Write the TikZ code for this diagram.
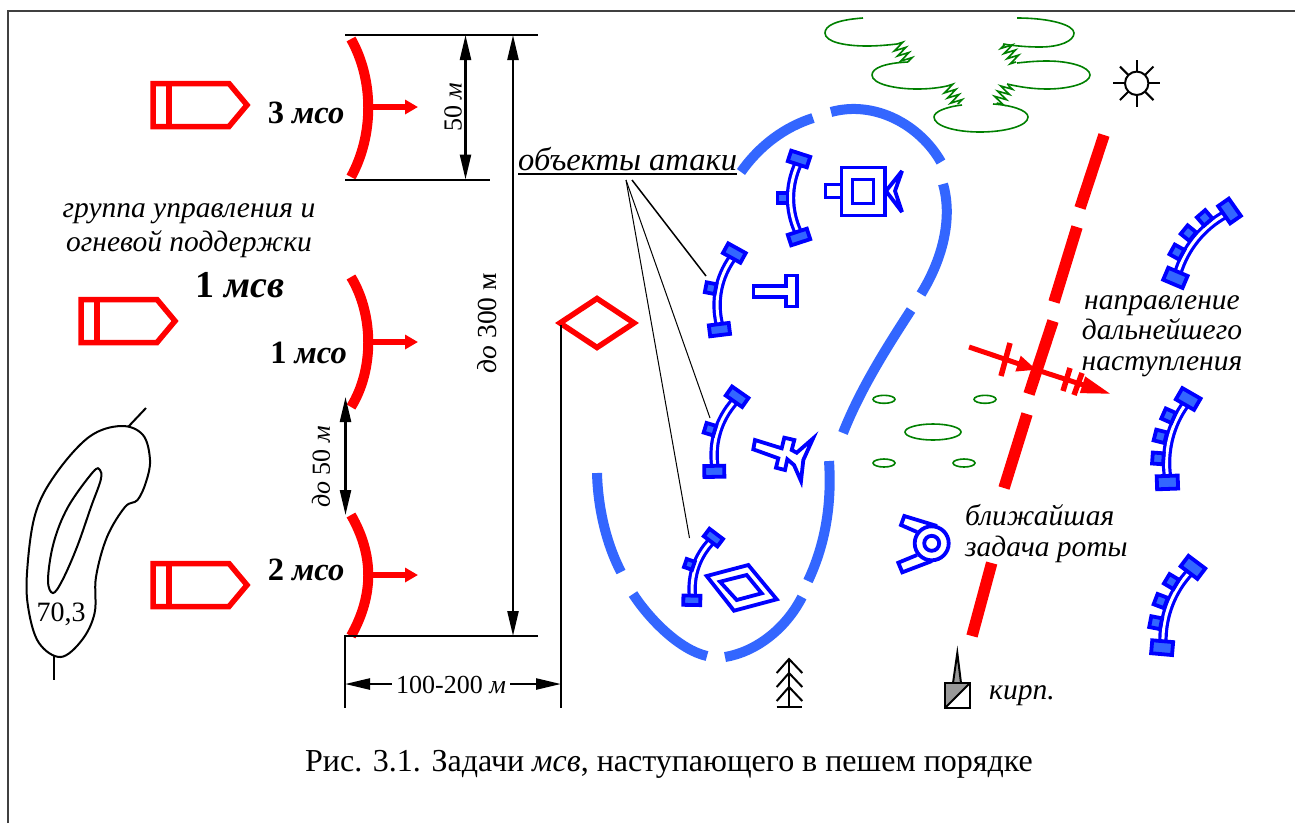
\documentclass[tikz,border=0pt]{standalone}
\usepackage{fontspec}
\setmainfont{Liberation Serif}
\usetikzlibrary{arrows.meta,decorations.pathmorphing}

\begin{document}
\begin{tikzpicture}[x=1pt, y=-1pt,
		lbl/.style={inner sep=0pt, anchor=base, font=\fontsize{29.5}{31}\selectfont},
		biglbl/.style={inner sep=0pt, anchor=base, font=\fontsize{32.5}{33}\selectfont},
		sublbl/.style={inner sep=0pt, anchor=base, font=\fontsize{26}{31}\selectfont},
		dim/.style={line width=2.4pt, {Triangle[length=25pt,width=11pt]}-{Triangle[length=25pt,width=11pt]}},
		rule/.style={line width=2pt},
		redbox/.style={draw=red, line width=5.5pt, miter limit=10},
		redarc/.style={draw=red, line width=10pt},
		redarrow/.style={draw=red, line width=6pt, -{Triangle[length=13pt,width=14pt]}},
		road/.style={draw=red, line width=11.5pt},
		front/.style={draw=frontblue, line width=10pt},
		target/.style={draw=blue, line width=3.8pt, miter limit=5},
		bluebox/.style={draw=blue, fill=frontblue, line width=3.8pt},
		trenchline/.style={blue, line width=3.2pt, double=white, double distance=3pt},
		pond/.style={draw=pondgreen, line width=1.6pt},
		zig/.style={draw=pondgreen, line width=1.6pt, decorate, decoration={zigzag, segment length=6pt, amplitude=6pt}},
		pics/trench/.style={code={
			\draw[trenchline] (6,-34) .. controls (-4,-12) and (-4,12) .. (6,34);
			\draw[bluebox, shift={(-9.5,0)}] (-5,-5) rectangle (5,5);
			\draw[bluebox, shift={(7,-39)}, rotate=-18] (-10,-5.5) rectangle (10,5.5);
			\draw[bluebox, shift={(7,39)}, rotate=18] (-10,-5.5) rectangle (10,5.5);
		}},
		pics/longtrench/.style={code={
			\draw[trenchline] (6,-38) .. controls (-4,-14) and (-4,14) .. (6,38);
			\draw[bluebox, shift={(-8,-22)}, rotate=-10] (-5.5,-5.5) rectangle (5.5,5.5);
			\draw[bluebox, shift={(-11,0)}] (-5.5,-5.5) rectangle (5.5,5.5);
			\draw[bluebox, shift={(-8,22)}, rotate=10] (-5.5,-5.5) rectangle (5.5,5.5);
			\draw[bluebox, shift={(7,-43)}, rotate=-16] (-10.5,-6.5) rectangle (10.5,6.5);
			\draw[bluebox, shift={(7,43)}, rotate=16] (-10.5,-6.5) rectangle (10.5,6.5);
		}},
		pics/company/.style={code={
			\draw[redbox] (0,0) -- (76,0) -- (94,21.5) -- (76,43) -- (0,43) -- cycle;
			\draw[redbox] (16,0) -- (16,43);
		}}]
		\definecolor{frontblue}{RGB}{51,102,255}
		\definecolor{pondgreen}{RGB}{0,128,0}
		\useasboundingbox (0,0) rectangle (1295,823);
		\fill[white] (0,0) rectangle (1295,823);
		\draw[black!75, line width=2pt] (8,823) -- (8,10.5) -- (1295,10.5);

		\pic at (153,83.5) {company};
		\pic at (81,299.5) {company};
		\pic at (153,563.5) {company};

		\draw[redarc] (351,39) .. controls (374,80) and (374,135) .. (351,177);
		\draw[redarc] (351,277) .. controls (374,315) and (374,370) .. (351,407);
		\draw[redarc] (351,515) .. controls (374,555) and (374,595) .. (351,636);
		\draw[redarrow] (371,107) -- (418,107);
		\draw[redarrow] (371,342) -- (418,342);
		\draw[redarrow] (371,575) -- (418,575);

		\node[biglbl] (n3) at (306,123) {\textbf{3 \textit{мсо}}};
		\node[biglbl] (n1) at (308.5,363) {\textbf{1 \textit{мсо}}};
		\node[biglbl] (n2) at (306,580) {\textbf{2 \textit{мсо}}};
		\node[lbl, font=\fontsize{38}{38}\selectfont] (batt) at (240,297) {\textbf{1 \textit{мсв}}};
		\node[lbl] (group1) at (189,217) {\textit{группа управления и}};
		\node[lbl] (group2) at (189,251) {\textit{огневой поддержки}};

		\coordinate (top1) at (345,35);
		\coordinate (top2) at (538,35);
		\coordinate (mid1) at (345,179.5);
		\coordinate (mid2) at (490,179.5);
		\coordinate (low1) at (345,636);
		\coordinate (low2) at (538,636);
		\coordinate (low3) at (345,708);
		\draw[rule] (top1) -- (top2);
		\draw[rule] (mid1) -- (mid2);
		\draw[rule] (low2) -- (low1) -- (low3);

		\coordinate (a1) at (465.5,35);
		\coordinate (a2) at (465.5,179.5);
		\coordinate (b1) at (513,35);
		\coordinate (b2) at (513,636);
		\coordinate (c1) at (345.5,397);
		\coordinate (c2) at (345.5,515);
		\coordinate (d1) at (345,684);
		\coordinate (d2) at (561,684);
		\draw[dim] (a1) -- (a2);
		\draw[dim] (b1) -- (b2);
		\draw[dim] (c1) -- (c2);
		\draw[dim] (d1) -- (d2);
		\node[sublbl, rotate=90, anchor=center] (w50) at (453,107) {50 \textit{м}};
		\node[sublbl, rotate=90, anchor=center, font=\fontsize{27.5}{31}\selectfont] (w300) at (487,323) {\textit{до} 300 м};
		\node[sublbl, rotate=90, anchor=center] (w503) at (321,467) {\textit{до} 50 \textit{м}};
		\node[sublbl, fill=white, inner xsep=4pt, inner ysep=3pt] (w100) at (451,693) {100-200 \textit{м}};

		\draw[rule] plot[smooth cycle, tension=.6] coordinates {(121,426) (143,435) (150,460) (146,482) (137.5,500) (125,507) (107,537) (96,577) (94.6,613) (82,640) (60.7,657) (39,643) (28.6,610) (27,573) (35,515) (55,475) (89,437)};
		\draw[rule] plot[smooth cycle, tension=.6] coordinates {(100,470) (93,472) (68,507) (53.6,543) (48,580) (53,593) (62.5,580) (77,547) (91,507) (100.7,480)};
		\draw[rule] (128.5,426.5) -- (146,408);
		\draw[rule] (53.5,656) -- (53.5,680);
		\node[sublbl, font=\fontsize{28}{31}\selectfont] (hill) at (61,621) {70,3};

		\draw[redbox] (560,323) -- (597,298.5) -- (634,323) -- (597,347.5) -- cycle;
		\draw[rule] (561,325) -- (561,708);

		\node[biglbl, anchor=base west, font=\fontsize{32.5}{33}\selectfont] (objects) at (518,170) {\textit{объекты атаки}};
		\draw[rule] ([yshift=-3.5pt]objects.base west) -- ([yshift=-3.5pt]objects.base east);
		\coordinate (f1) at (632,180);
		\coordinate (f2) at (626,180);
		\coordinate (f3) at (626,180);
		\coordinate (g1) at (706,276);
		\coordinate (g2) at (710,418);
		\coordinate (g3) at (689.5,538);
		\draw[line width=1.5pt] (f1) -- (g1);
		\draw[line width=1pt] (f2) -- (g2);
		\draw[line width=1pt] (f3) -- (g3);

		\draw[front] (741,172) .. controls (760,145) and (785,127) .. (813,118);
		\draw[front] (831,112) .. controls (875,100) and (920,125) .. (941,162);
		\draw[front] (943,184) .. controls (952,215) and (945,255) .. (921,294);
		\draw[front] (911,310) .. controls (885,350) and (860,390) .. (843,433);
		\draw[front] (829,461) .. controls (832,505) and (825,545) .. (808,581);
		\draw[front] (802,597) .. controls (785,630) and (755,652) .. (725,657);
		\draw[front] (707,656) .. controls (680,650) and (650,620) .. (633,594);
		\draw[front] (621,572) .. controls (607,545) and (598,510) .. (597,473);

		\pic at (792,198) {trench};
		\pic[rotate=-11] at (720,290) {trench};
		\pic[rotate=-17] at (719,432) {trench};
		\pic[rotate=-19, scale=.85] at (697,567) {trench};
		\pic[rotate=-39] at (1197,240) {longtrench};
		\pic[rotate=-14] at (1171,439) {longtrench};
		\pic[rotate=-21] at (1171,605) {longtrench};

		\draw[target] (841.5,167.5) rectangle (885,215.5);
		\draw[target] (852.5,179.5) rectangle (873.5,203.5);
		\draw[target] (840,184.5) -- (825.5,184.5) -- (825.5,197.5) -- (840,197.5);
		\draw[target] (886,191) -- (902,171) -- (895,191) -- (902,212) -- cycle;

		\draw[target] (753.5,286) -- (786,286) -- (786,275.5) -- (797,275.5) -- (797,306.5) -- (786,306.5) -- (786,297) -- (753.5,297) -- cycle;

		\draw[target] (755,440) -- (781.7,448.3) -- (784.3,437.7) -- (794.3,440) -- (791.7,450) -- (796.7,452.7) -- (813,438.5) -- (803.3,460) -- (801,481) -- (794,465) -- (787.3,459.3) -- (785,470) -- (776,467.7) -- (778.3,458.3) -- (753.3,449.3) -- cycle;

		\draw[target] (706.7,576) -- (748.3,565) -- (776.7,599.3) -- (734,610.7) -- cycle;
		\draw[target] (720,581.7) -- (746.7,575) -- (761.7,593.3) -- (736.7,600) -- cycle;

		\draw[target] (931.7,543.3) circle (17);
		\draw[target] (931.7,543.3) circle (7.5);
		\draw[target] (917,532) -- (901,525) -- (904.3,516) -- (937,526);
		\draw[target] (917,555) -- (898.3,562.7) -- (902.3,572.3) -- (932,561);

		\draw[road] (1104,135) -- (1080,208);
		\draw[road] (1077,227) -- (1054,302);
		\draw[road] (1053,321) -- (1029,394);
		\draw[road] (1027,414) -- (1004,488);
		\draw[road] (991.7,563) -- (972,636);

		\coordinate (adv1) at (969,347);
		\coordinate (adv2) at (1037,370);
		\coordinate (adv3) at (1111,394);
		\draw[red, line width=5pt, -{Triangle[length=20pt,width=15pt]}] (adv1) -- (adv2);
		\draw[red, line width=5pt, -{Triangle[length=30pt,width=16pt]}] (adv2) -- (adv3);
		\draw[red, line width=5.5pt] (1010,343) -- (1001,376);
		\draw[red, line width=5.5pt] (1070,368) -- (1063,391);
		\draw[red, line width=5.5pt] (1082,373) -- (1074,395);

		\draw[pond] (863,18) .. controls (835,20) and (825,26) .. (825,33) .. controls (825,42) and (845,46) .. (867,46) .. controls (878,46) and (888,45) .. (897,44);
		\draw[zig] (897,44) -- (908,62);
		\draw[pond] (908,62) .. controls (885,63) and (872,68) .. (872,75) .. controls (872,84) and (895,89) .. (917,89) .. controls (928,89) and (938,88) .. (947,86);
		\draw[zig] (947,86) -- (958,104);
		\draw[pond] (962,105) .. controls (945,107) and (934,112) .. (934,117) .. controls (934,126) and (955,132) .. (980,132) .. controls (1005,132) and (1028,126) .. (1028,117) .. controls (1028,110) and (1010,105) .. (993,104);
		\draw[zig] (1008,85) -- (997,104);
		\draw[pond] (1007,84) .. controls (1020,87) and (1033,89) .. (1047,89) .. controls (1070,89) and (1090,83) .. (1090,75) .. controls (1090,67) and (1070,61) .. (1047,61) .. controls (1036,61) and (1026,62) .. (1017,63);
		\draw[zig] (1016,62) -- (1005,44);
		\draw[pond] (1003,44) .. controls (1015,46) and (1028,47) .. (1040,47) .. controls (1060,47) and (1074,41) .. (1074,33) .. controls (1074,25) and (1050,18) .. (1017,18);

		\draw[pond] (884,399.3) ellipse (11 and 4);
		\draw[pond] (985,399.3) ellipse (11 and 4);
		\draw[pond] (933,432) ellipse (28 and 8);
		\draw[pond] (884,463) ellipse (11 and 4);
		\draw[pond] (964,463) ellipse (11 and 4);

		\draw[rule] (1136.7,83.3) circle (11.7);
		\foreach \a in {0,45,...,315}
			\draw[rule] (1136.7,83.3) ++(\a:11.7) -- ++(\a:12);

		\draw[rule] (789,659) -- (789,707);
		\draw[rule] (776.7,707) -- (802.3,707);
		\draw[rule] (776.7,673) -- (789,659) -- (802.3,673);
		\draw[rule] (776.7,687) -- (789,673) -- (802.3,687);
		\draw[rule] (776.7,701) -- (789,687) -- (802.3,701);

		\draw[rule, fill=black!40] (953,683) -- (957.3,653) -- (961,683) -- cycle;
		\fill[black!40] (945,683) -- (970,683) -- (945,708) -- cycle;
		\draw[rule] (945,683) rectangle (970,708);
		\draw[rule] (945,708) -- (970,683);

		\node[lbl, anchor=base west] (brick) at (989,699) {\textit{кирп.}};
		\node[lbl, anchor=base west] (near1) at (965,525) {\textit{ближайшая}};
		\node[lbl, anchor=base west] (near2) at (965,556) {\textit{задача роты}};
		\node[lbl] (next1) at (1162,309) {\textit{направление}};
		\node[lbl] (next2) at (1162,339) {\textit{дальнейшего}};
		\node[lbl] (next3) at (1162,370) {\textit{наступления}};

		\node[lbl, font=\fontsize{32}{32}\selectfont] (caption) at (669,771) {Рис. 3.1. Задачи \textit{мсв}, наступающего в пешем порядке};
	\end{tikzpicture}
\end{document}
